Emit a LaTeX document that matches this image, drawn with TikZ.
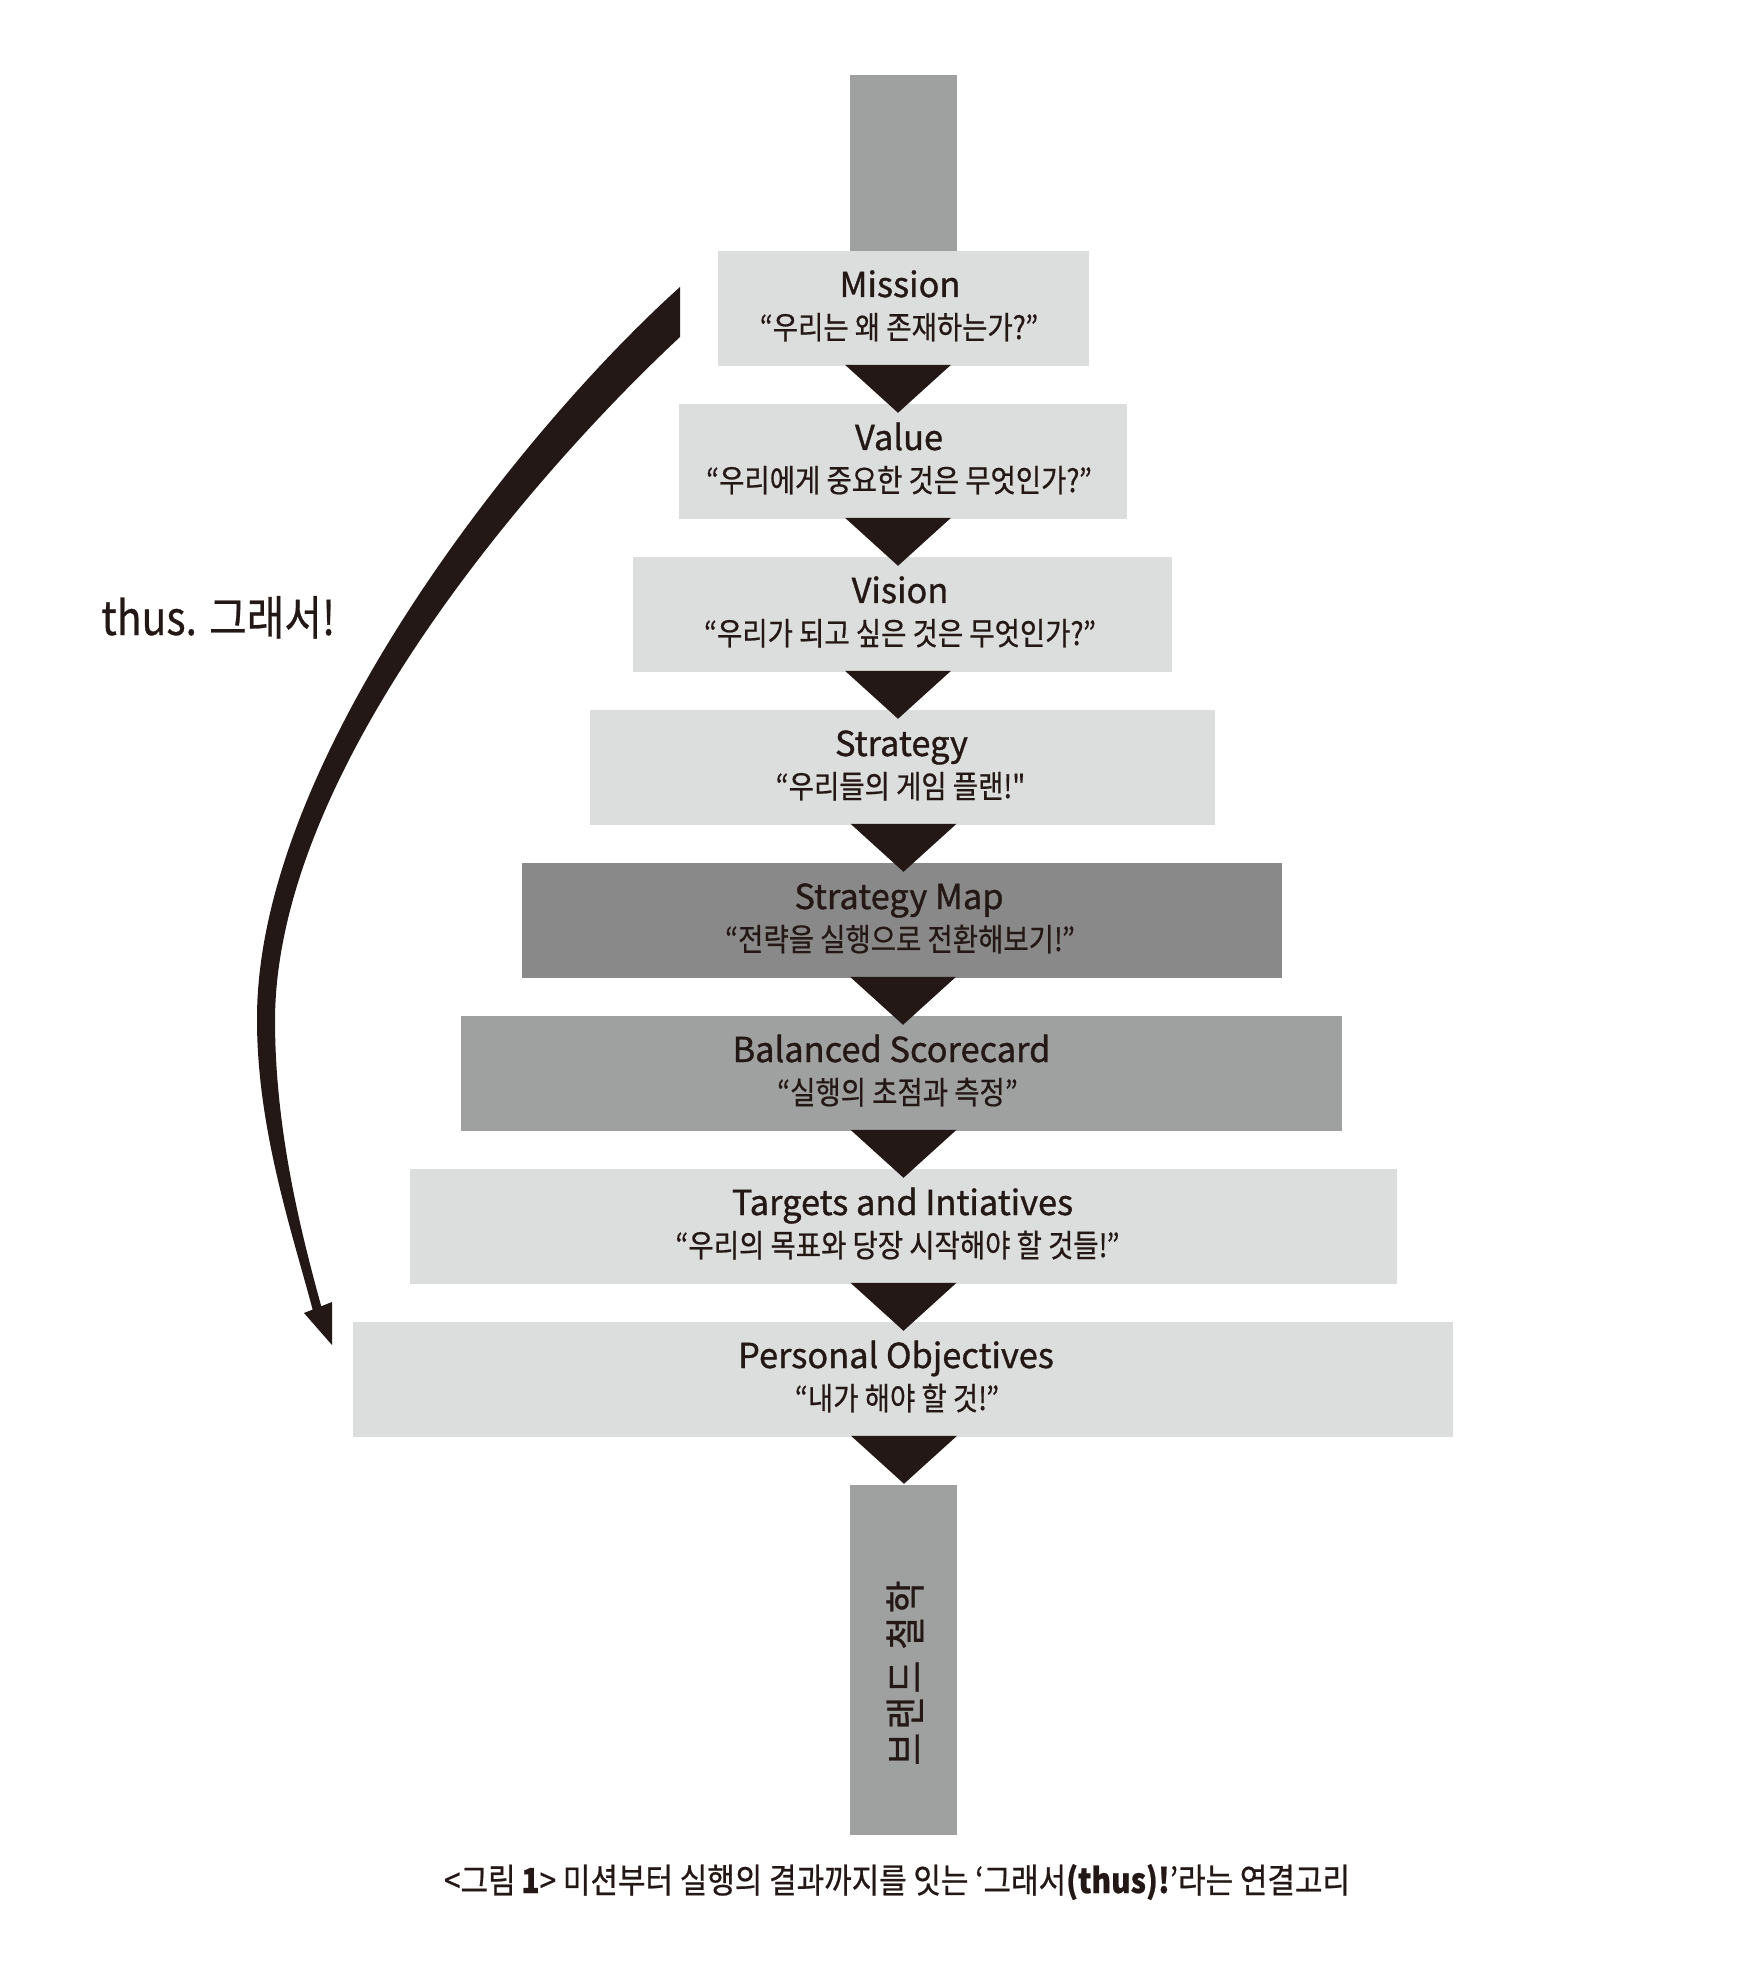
\documentclass[tikz,border=0pt]{standalone}
\usepackage{fontspec}
\setmainfont{Noto Sans CJK KR}
\newfontfamily\ttl[FakeBold=1]{Noto Sans CJK KR}
\newfontfamily\kr[FakeStretch=0.87,FakeBold=0.6]{Noto Sans CJK KR}
\newfontfamily\krv[FakeStretch=0.87,FakeBold=0.6,LetterSpace=8]{Noto Sans CJK KR}
\usetikzlibrary{calc}
\definecolor{ink}{HTML}{231815}
\definecolor{lightg}{HTML}{DCDDDD}
\definecolor{midg}{HTML}{9FA0A0}
\definecolor{darkg}{HTML}{898989}
\tikzset{
  box/.style={fill=lightg, inner sep=0pt, anchor=north, minimum height=57.5pt},
  ttltext/.style={font=\ttl\fontsize{17.2}{20}\selectfont, text=ink, anchor=base, inner sep=0pt},
  subtext/.style={font=\kr\fontsize{15.8}{18}\selectfont, text=ink, anchor=base, inner sep=0pt},
  tri/.style={fill=ink},
  bar/.style={fill=midg, inner sep=0pt, anchor=north, minimum width=53.5pt},
}
\newcommand\downtri[2]{\fill[tri] ($(#1.south)+(#2-53,-2)$) -- ($(#1.south)+(#2+53,-2)$) -- ($(#1.south)+(#2,46)$) -- cycle;}
\begin{document}
\begin{tikzpicture}[x=0.5pt,y=-0.5pt]
\useasboundingbox (0,0) rectangle (1744,1962);
% bars
\node[bar, minimum height=88pt] (topbar) at (903,75) {};
\node[bar, minimum height=175pt] (botbar) at (903,1485) {};
% boxes
\node[box, minimum width=185.5pt] (b1) at (903,251) {};
\node[box, minimum width=224pt]   (b2) at (903,404) {};
\node[box, minimum width=269.5pt] (b3) at (902,557) {};
\node[box, minimum width=312.5pt] (b4) at (902.5,710) {};
\node[box, minimum width=380pt, fill=darkg] (b5) at (902,863) {};
\node[box, minimum width=440.5pt, fill=midg] (b6) at (901.5,1016) {};
\node[box, minimum width=493.5pt] (b7) at (903.5,1169) {};
\node[box, minimum width=550pt]   (b8) at (903,1322) {};
% triangles
\downtri{b1}{-5}
\downtri{b2}{-5}
\downtri{b3}{-4}
\downtri{b4}{1}
\downtri{b5}{1}
\downtri{b6}{2}
\downtri{b7}{0}
\downtri{b8}{1}
% titles
\node[ttltext] (t1) at ($(b1.north)+(-3,46)$) {Mission};
\node[subtext] (s1) at ($(b1.north)+(-4,88)$) {“우리는 왜 존재하는가?”};
\node[ttltext] (t2) at ($(b2.north)+(-4,46)$) {Value};
\node[subtext] (s2) at ($(b2.north)+(-4,88)$) {“우리에게 중요한 것은 무엇인가?”};
\node[ttltext] (t3) at ($(b3.north)+(-2,46)$) {Vision};
\node[subtext] (s3) at ($(b3.north)+(-2,88)$) {“우리가 되고 싶은 것은 무엇인가?”};
\node[ttltext] (t4) at ($(b4.north)+(-1,46)$) {Strategy};
\node[subtext] (s4) at ($(b4.north)+(-2,88)$) {“우리들의 게임 플랜!"};
\node[ttltext] (t5) at ($(b5.north)+(-3,46)$) {Strategy Map};
\node[subtext] (s5) at ($(b5.north)+(-2,88)$) {“전략을 실행으로 전환해보기!”};
\node[ttltext] (t6) at ($(b6.north)+(-10,46)$) {Balanced Scorecard};
\node[subtext] (s6) at ($(b6.north)+(-4,88)$) {“실행의 초점과 측정”};
\node[ttltext] (t7) at ($(b7.north)+(-1,46)$) {Targets and Intiatives};
\node[subtext] (s7) at ($(b7.north)+(-6,88)$) {“우리의 목표와 당장 시작해야 할 것들!”};
\node[ttltext] (t8) at ($(b8.north)+(-7,46)$) {Personal Objectives};
\node[subtext] (s8) at ($(b8.north)+(-6,88)$) {“내가 해야 할 것!”};
% vertical bar text
\node[font=\krv\fontsize{20.5}{22}\selectfont, text=ink, rotate=90, inner sep=0pt] (bartext) at (905,1673) {브랜드 철학};
% thus label
\node[font=\kr\fontsize{23.5}{26}\selectfont, text=ink, anchor=base west, inner sep=0pt] (thus) at (101,635) {thus. 그래서!};
% caption
\node[font=\kr\fontsize{17.2}{19}\selectfont, text=ink, anchor=base, inner sep=0pt] (cap) at (897,1893) {<그림\,{\bfseries 1}> 미션부터 실행의 결과까지를 잇는 ‘그래서{\bfseries(thus)!}’라는 연결고리};
% curved tapering arrow
\coordinate (arrS1) at (680,287);
\coordinate (arrS2) at (680,337);
\coordinate (arrTip) at (332,1345);
\fill[ink] (arrS1) .. controls (526,425) and (256,760) .. (257,1020)
  .. controls (257,1130) and (293,1235) .. (313,1311)
  -- (322,1309)
  .. controls (301,1233) and (275,1130) .. (275,1020)
  .. controls (276,760) and (553,455) .. (arrS2) -- cycle;
\fill[ink] (304,1313) -- (arrTip) -- (332,1302) -- cycle;
\end{tikzpicture}
\end{document}
